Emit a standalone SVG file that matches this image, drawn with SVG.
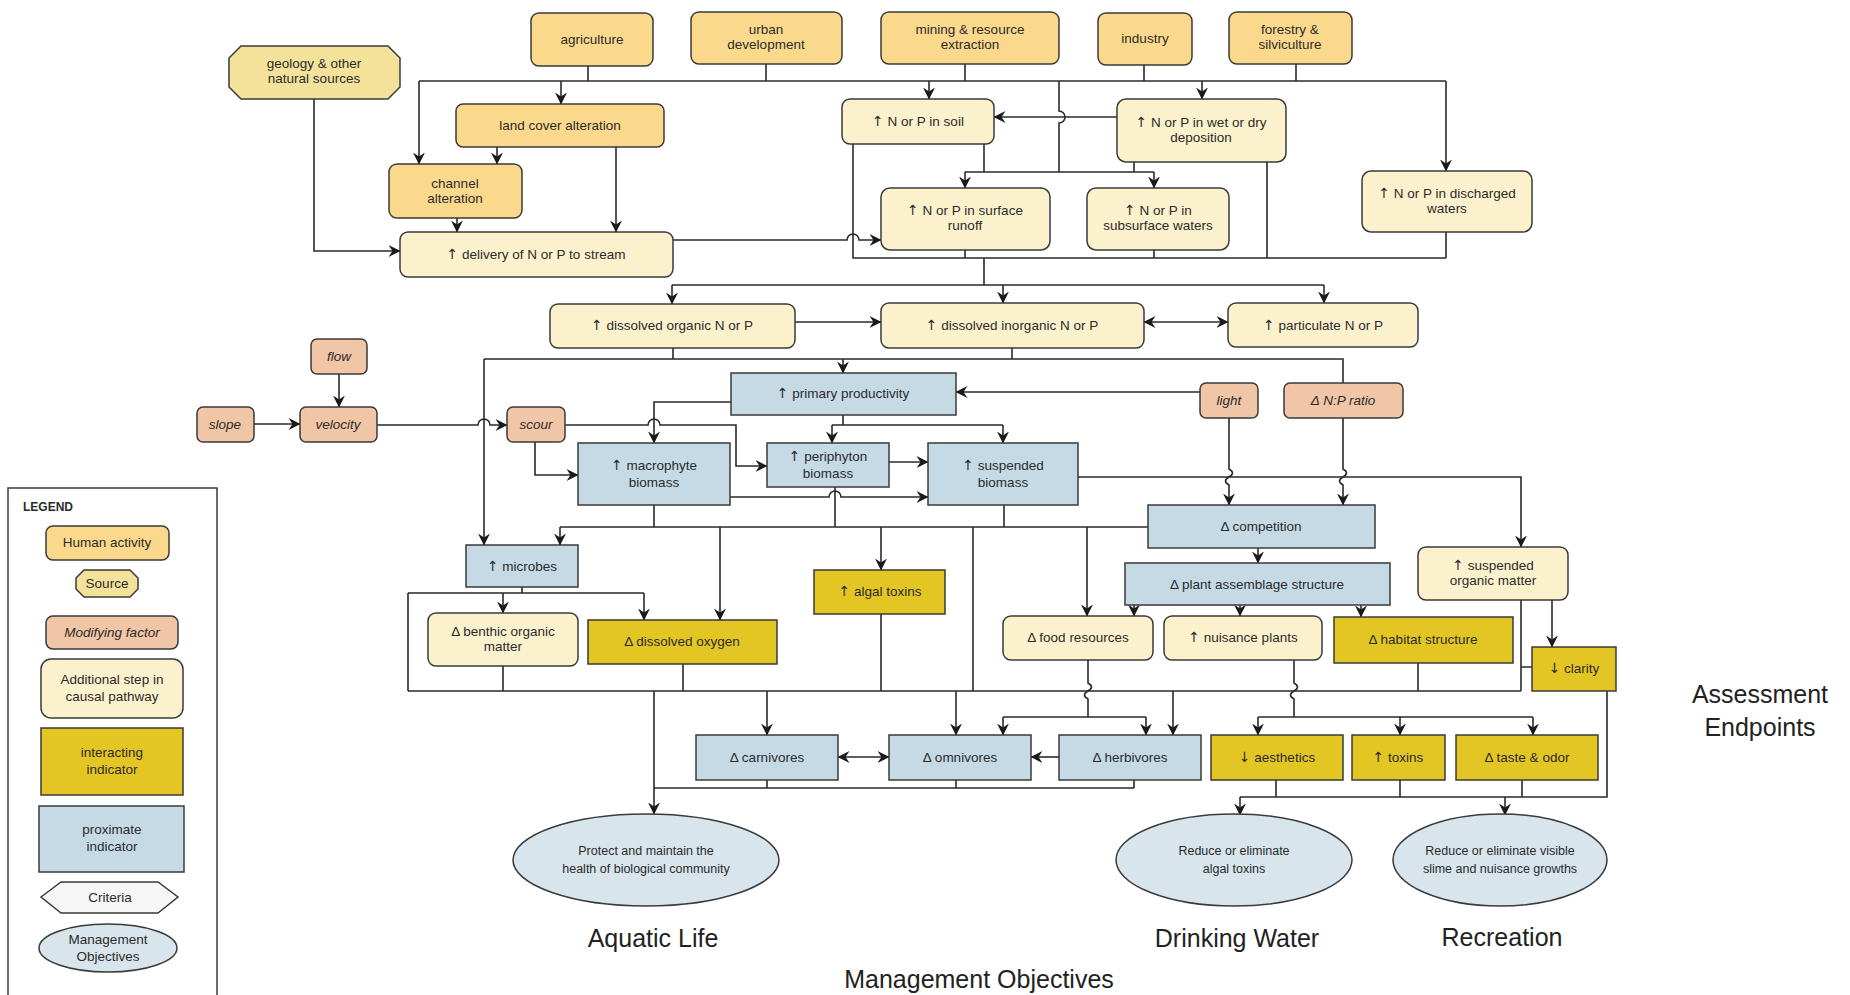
<svg xmlns="http://www.w3.org/2000/svg" width="1850" height="995" viewBox="0 0 1850 995">
<style>
.n{stroke:#3a3a3a;stroke-width:1.5}
.ha{fill:#FBD98C}
.src{fill:#F4E29A}
.mf{fill:#F0C6A6}
.as{fill:#FBF2CD}
.ii{fill:#E3C623}
.pi{fill:#C6DAE6}
.mo{fill:#D8E5EC}
.cr{fill:#F6F6F6}
text{font-family:"Liberation Sans",Arial,sans-serif;font-size:13.5px;fill:#2b2b2b;text-anchor:middle}
.i{font-style:italic}
.e{font-size:12.5px}
.big{font-size:25px;fill:#222}
tspan.ar{font-family:"DejaVu Sans",sans-serif;font-size:14px}
.c path{fill:none;stroke:#2a2a2a;stroke-width:1.6}
.c path.a{marker-end:url(#ar)}
.c path.b{marker-start:url(#ar);marker-end:url(#ar)}
</style>
<defs>
<marker id="ar" viewBox="0 0 12 12" refX="11.5" refY="6" markerWidth="12" markerHeight="12" markerUnits="userSpaceOnUse" orient="auto-start-reverse"><path d="M0,0 L12,6 L0,12 L4,6 z" fill="#1a1a1a"/></marker>
</defs>
<rect width="1850" height="995" fill="#ffffff"/>

<g id="connectors" class="c">
<path class="a" d="M314,99 V251 H400"/>
<path d="M419,81 H1446"/>
<path class="a" d="M419,81 V164"/>
<path class="a" d="M1446,81 V171"/>
<path d="M588,66 V81 M766,64 V81 M965,64 V81 M1144,65 V81 M1296,64 V81"/>
<path class="a" d="M561,81 V104"/>
<path class="a" d="M929,81 V99"/>
<path class="a" d="M1202,81 V99"/>
<path class="a" d="M497,147 V164"/>
<path class="a" d="M616,147 V232"/>
<path class="a" d="M457,218 V232"/>
<path class="a" d="M1117,117 H994"/>
<path d="M1059,81 V111 A6,6 0 0 1 1059,123 V172"/>
<path d="M965,172 H1154 M984,144 V172 M1134,162 V172"/>
<path class="a" d="M965,172 V188"/>
<path class="a" d="M1154,172 V188"/>
<path class="a" d="M673,240 H847 A6,6 0 0 1 859,240 H881"/>
<path d="M853,144 V258 H1446 M965,250 V258 M1154,250 V258 M1267,162 V258 M1446,232 V258"/>
<path d="M984,258 V285 M672,285 H1324"/>
<path class="a" d="M672,285 V304"/>
<path class="a" d="M1003,285 V303"/>
<path class="a" d="M1324,285 V303"/>
<path class="a" d="M795,322 H881"/>
<path class="b" d="M1144,322 H1228"/>
<path d="M673,348 V359 M1012,348 V359 M484,359 H1343 V383"/>
<path class="a" d="M484,359 V545"/>
<path class="a" d="M843,359 V373"/>
<path class="a" d="M339,374 V407"/>
<path class="a" d="M254,424 H300"/>
<path class="a" d="M377,425 H478 A6,6 0 0 1 490,425 H507"/>
<path class="a" d="M1200,392 H956"/>
<path d="M843,415 V425 M832,425 H1003"/>
<path class="a" d="M832,425 V443"/>
<path class="a" d="M1003,425 V443"/>
<path class="a" d="M731,402 H654 V443"/>
<path class="a" d="M565,425 H648 A6,6 0 0 1 660,425 H736 V466 H767"/>
<path class="a" d="M535,442 V475 H578"/>
<path class="a" d="M889,462 H928"/>
<path class="a" d="M730,497 H829 A6,6 0 0 1 841,497 H928"/>
<path class="a" d="M1078,477 H1521 V547"/>
<path class="a" d="M1229,418 V469 q7,4 0,8 q-7,4 0,8 V505"/>
<path class="a" d="M1343,418 V469 q7,4 0,8 q-7,4 0,8 V505"/>
<path d="M654,505 V527 M835,487 V527 M1004,505 V527 M560,527 H1148 M973,527 V691"/>
<path class="a" d="M560,527 V545"/>
<path class="a" d="M720,527 V620"/>
<path class="a" d="M881,527 V570"/>
<path class="a" d="M1087,527 V616"/>
<path class="a" d="M1258,548 V563"/>
<path class="a" d="M1134,605 V616"/>
<path class="a" d="M1240,605 V616"/>
<path class="a" d="M1361,605 V617"/>
<path d="M522,587 V593 M408,593 H644 M408,593 V691"/>
<path class="a" d="M503,593 V613"/>
<path class="a" d="M644,593 V620"/>
<path d="M408,691 H1521 M503,666 V691 M683,664 V691 M881,614 V691 M1418,663 V691 M1521,600 V691 M1521,667 H1532"/>
<path class="a" d="M1552,600 V647"/>
<path d="M1088,660 V683 q7,4 0,8 q-7,4 0,8 V717 M1003,717 H1146"/>
<path class="a" d="M1003,717 V735"/>
<path class="a" d="M1146,717 V735"/>
<path d="M1294,660 V683 q7,4 0,8 q-7,4 0,8 V717 M1258,717 H1533"/>
<path class="a" d="M1258,717 V735"/>
<path class="a" d="M1400,717 V735"/>
<path class="a" d="M1533,717 V735"/>
<path class="a" d="M654,691 V814"/>
<path class="a" d="M767,691 V735"/>
<path class="a" d="M956,691 V735"/>
<path class="a" d="M1173,691 V735"/>
<path class="b" d="M838,757 H889"/>
<path class="a" d="M1059,757 H1031"/>
<path d="M654,788 H1134 M767,780 V788 M956,780 V788 M1134,780 V788"/>
<path d="M1240,797 H1607 V691 M1276,780 V797 M1400,780 V797 M1522,780 V797"/>
<path class="a" d="M1240,797 V815"/>
<path class="a" d="M1505,797 V815"/>
</g>

<g id="geology"><polygon class="n src" points="241,46 388,46 400,58 400,87 388,99 241,99 229,87 229,58"/><text x="314" y="68">geology &amp; other</text><text x="314" y="83">natural sources</text></g>
<g id="agriculture"><rect class="n ha" x="531" y="13" width="122" height="53" rx="8"/><text x="592" y="44">agriculture</text></g>
<g id="urban"><rect class="n ha" x="691" y="12" width="151" height="52" rx="8"/><text x="766" y="34">urban</text><text x="766" y="49">development</text></g>
<g id="mining"><rect class="n ha" x="881" y="12" width="178" height="52" rx="8"/><text x="970" y="34">mining &amp; resource</text><text x="970" y="49">extraction</text></g>
<g id="industry"><rect class="n ha" x="1098" y="13" width="94" height="52" rx="8"/><text x="1145" y="43">industry</text></g>
<g id="forestry"><rect class="n ha" x="1229" y="12" width="123" height="52" rx="8"/><text x="1290" y="34">forestry &amp;</text><text x="1290" y="49">silviculture</text></g>
<g id="landcover"><rect class="n ha" x="456" y="104" width="208" height="43" rx="7"/><text x="560" y="130">land cover alteration</text></g>
<g id="channel"><rect class="n ha" x="389" y="164" width="133" height="54" rx="8"/><text x="455" y="188">channel</text><text x="455" y="203">alteration</text></g>
<g id="delivery"><rect class="n as" x="400" y="232" width="273" height="45" rx="8"/><text x="536" y="259"><tspan class="ar">↑</tspan> delivery of N or P to stream</text></g>
<g id="soil"><rect class="n as" x="842" y="99" width="152" height="45" rx="8"/><text x="918" y="126"><tspan class="ar">↑</tspan> N or P in soil</text></g>
<g id="deposition"><rect class="n as" x="1117" y="99" width="169" height="63" rx="9"/><text x="1201" y="127"><tspan class="ar">↑</tspan> N or P in wet or dry</text><text x="1201" y="142">deposition</text></g>
<g id="runoff"><rect class="n as" x="881" y="188" width="169" height="62" rx="9"/><text x="965" y="215"><tspan class="ar">↑</tspan> N or P in surface</text><text x="965" y="230">runoff</text></g>
<g id="subsurface"><rect class="n as" x="1087" y="188" width="142" height="62" rx="9"/><text x="1158" y="215"><tspan class="ar">↑</tspan> N or P in</text><text x="1158" y="230">subsurface waters</text></g>
<g id="discharged"><rect class="n as" x="1362" y="171" width="170" height="61" rx="9"/><text x="1447" y="198"><tspan class="ar">↑</tspan> N or P in discharged</text><text x="1447" y="213">waters</text></g>
<g id="organic"><rect class="n as" x="550" y="304" width="245" height="44" rx="8"/><text x="672" y="330"><tspan class="ar">↑</tspan> dissolved organic N or P</text></g>
<g id="inorganic"><rect class="n as" x="881" y="303" width="263" height="45" rx="8"/><text x="1012" y="330"><tspan class="ar">↑</tspan> dissolved inorganic N or P</text></g>
<g id="particulate"><rect class="n as" x="1228" y="303" width="190" height="44" rx="8"/><text x="1323" y="330"><tspan class="ar">↑</tspan> particulate N or P</text></g>
<g id="flow"><rect class="n mf" x="311" y="339" width="56" height="35" rx="6"/><text class="i" x="339" y="361">flow</text></g>
<g id="slope"><rect class="n mf" x="197" y="407" width="57" height="35" rx="6"/><text class="i" x="225" y="429">slope</text></g>
<g id="velocity"><rect class="n mf" x="300" y="407" width="77" height="35" rx="6"/><text class="i" x="338" y="429">velocity</text></g>
<g id="scour"><rect class="n mf" x="507" y="407" width="58" height="35" rx="6"/><text class="i" x="536" y="429">scour</text></g>
<g id="light"><rect class="n mf" x="1200" y="383" width="58" height="35" rx="6"/><text class="i" x="1229" y="405">light</text></g>
<g id="npratio"><rect class="n mf" x="1284" y="383" width="119" height="35" rx="6"/><text class="i" x="1343" y="405">Δ N:P ratio</text></g>
<g id="primary"><rect class="n pi" x="731" y="373" width="225" height="42"/><text x="843" y="398"><tspan class="ar">↑</tspan> primary productivity</text></g>
<g id="macrophyte"><rect class="n pi" x="578" y="443" width="152" height="62"/><text x="654" y="470"><tspan class="ar">↑</tspan> macrophyte</text><text x="654" y="487">biomass</text></g>
<g id="periphyton"><rect class="n pi" x="767" y="443" width="122" height="44"/><text x="828" y="461"><tspan class="ar">↑</tspan> periphyton</text><text x="828" y="478">biomass</text></g>
<g id="suspended"><rect class="n pi" x="928" y="443" width="150" height="62"/><text x="1003" y="470"><tspan class="ar">↑</tspan> suspended</text><text x="1003" y="487">biomass</text></g>
<g id="competition"><rect class="n pi" x="1148" y="505" width="227" height="43"/><text x="1261" y="531">Δ competition</text></g>
<g id="plantassemblage"><rect class="n pi" x="1125" y="563" width="265" height="42"/><text x="1257" y="589">Δ plant assemblage structure</text></g>
<g id="som"><rect class="n as" x="1418" y="547" width="150" height="53" rx="8"/><text x="1493" y="570"><tspan class="ar">↑</tspan> suspended</text><text x="1493" y="585">organic matter</text></g>
<g id="microbes"><rect class="n pi" x="466" y="545" width="112" height="42"/><text x="522" y="571"><tspan class="ar">↑</tspan> microbes</text></g>
<g id="algaltoxins"><rect class="n ii" x="814" y="570" width="131" height="44"/><text x="880" y="596"><tspan class="ar">↑</tspan> algal toxins</text></g>
<g id="benthic"><rect class="n as" x="428" y="613" width="150" height="53" rx="8"/><text x="503" y="636">Δ benthic organic</text><text x="503" y="651">matter</text></g>
<g id="oxygen"><rect class="n ii" x="588" y="620" width="189" height="44"/><text x="682" y="646">Δ dissolved oxygen</text></g>
<g id="food"><rect class="n as" x="1003" y="616" width="150" height="44" rx="8"/><text x="1078" y="642">Δ food resources</text></g>
<g id="nuisance"><rect class="n as" x="1164" y="616" width="158" height="44" rx="8"/><text x="1243" y="642"><tspan class="ar">↑</tspan> nuisance plants</text></g>
<g id="habitat"><rect class="n ii" x="1334" y="617" width="179" height="46"/><text x="1423" y="644">Δ habitat structure</text></g>
<g id="clarity"><rect class="n ii" x="1532" y="647" width="84" height="44"/><text x="1574" y="673"><tspan class="ar">↓</tspan> clarity</text></g>
<g id="carnivores"><rect class="n pi" x="696" y="735" width="142" height="45"/><text x="767" y="762">Δ carnivores</text></g>
<g id="omnivores"><rect class="n pi" x="889" y="735" width="142" height="45"/><text x="960" y="762">Δ omnivores</text></g>
<g id="herbivores"><rect class="n pi" x="1059" y="735" width="142" height="45"/><text x="1130" y="762">Δ herbivores</text></g>
<g id="aesthetics"><rect class="n ii" x="1211" y="735" width="132" height="45"/><text x="1277" y="762"><tspan class="ar">↓</tspan> aesthetics</text></g>
<g id="toxins"><rect class="n ii" x="1352" y="735" width="93" height="45"/><text x="1398" y="762"><tspan class="ar">↑</tspan> toxins</text></g>
<g id="taste"><rect class="n ii" x="1456" y="735" width="142" height="45"/><text x="1527" y="762">Δ taste &amp; odor</text></g>
<g id="aquatic"><ellipse class="n mo" cx="646" cy="860" rx="133" ry="46"/><text class="e" x="646" y="855">Protect and maintain the</text><text class="e" x="646" y="873">health of biological community</text></g>
<g id="drinking"><ellipse class="n mo" cx="1234" cy="860" rx="118" ry="46"/><text class="e" x="1234" y="855">Reduce or eliminate</text><text class="e" x="1234" y="873">algal toxins</text></g>
<g id="recreation"><ellipse class="n mo" cx="1500" cy="860" rx="107" ry="46"/><text class="e" x="1500" y="855">Reduce or eliminate visible</text><text class="e" x="1500" y="873">slime and nuisance growths</text></g>

<g id="labels">
<text class="big" x="653" y="947">Aquatic Life</text>
<text class="big" x="1237" y="947">Drinking Water</text>
<text class="big" x="1502" y="946">Recreation</text>
<text class="big" x="979" y="988">Management Objectives</text>
<text class="big" x="1760" y="703">Assessment</text>
<text class="big" x="1760" y="736">Endpoints</text>
</g>

<g id="legend">
<path d="M8,1000 V488 H217 V1000" fill="none" stroke="#3a3a3a" stroke-width="1.5"/>
<text x="23" y="511" style="text-anchor:start;font-weight:bold;font-size:12px">LEGEND</text>
<rect class="n ha" x="46" y="526" width="123" height="34" rx="7"/><text x="107" y="547">Human activity</text>
<polygon class="n src" points="84,570 130,570 138,578 138,589 130,597 84,597 76,589 76,578"/><text x="107" y="588">Source</text>
<rect class="n mf" x="46" y="616" width="132" height="33" rx="7"/><text class="i" x="112" y="637">Modifying factor</text>
<rect class="n as" x="41" y="659" width="142" height="59" rx="10"/><text x="112" y="684">Additional step in</text><text x="112" y="701">causal pathway</text>
<rect class="n ii" x="41" y="728" width="142" height="67"/><text x="112" y="757">interacting</text><text x="112" y="774">indicator</text>
<rect class="n pi" x="39" y="806" width="145" height="66"/><text x="112" y="834">proximate</text><text x="112" y="851">indicator</text>
<polygon class="n cr" points="41,897 61,882 158,882 178,897 158,913 61,913"/><text x="110" y="902">Criteria</text>
<ellipse class="n mo" cx="108" cy="948" rx="69" ry="24"/><text x="108" y="944">Management</text><text x="108" y="961">Objectives</text>
</g>
</svg>
